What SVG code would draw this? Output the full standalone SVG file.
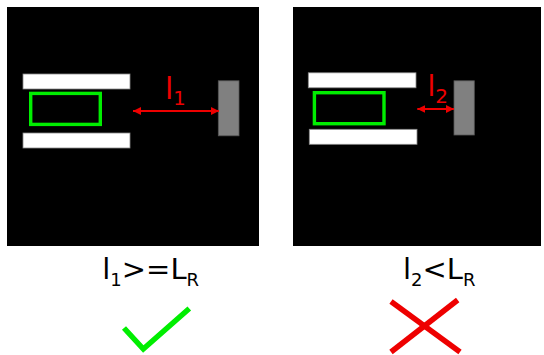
<svg xmlns="http://www.w3.org/2000/svg" width="544" height="355" viewBox="0 0 544 355">
<style>
.panel{fill:#000}
.bar{fill:#fff;stroke:#888;stroke-width:0.8}
.car{fill:none;stroke:#00ee00;stroke-width:3.4}
.wall{fill:#808080;stroke:#555;stroke-width:0.8}
.dim{stroke:#ee0000;stroke-width:2;fill:none}
.red{fill:#ee0000;font-family:"DejaVu Sans",sans-serif}
.lbl{fill:#000;font-family:"DejaVu Sans",sans-serif}
</style>
<defs>
<marker id="ah" viewBox="0 0 10 10" refX="10" refY="5" markerWidth="4" markerHeight="4" orient="auto-start-reverse" markerUnits="strokeWidth">
<path d="M0,0 L10,5 L0,10 Z" fill="#ee0000"/>
</marker>
</defs>
<rect width="544" height="355" fill="#fff"/>
<g id="panel1">
<rect class="panel" x="7" y="7" width="252" height="239"/>
<rect class="bar" x="23" y="74" width="107" height="15"/>
<rect class="car" x="30.7" y="93.4" width="69.6" height="31"/>
<rect class="bar" x="23" y="133" width="107" height="15"/>
<rect class="wall" x="218.3" y="80.8" width="20.7" height="55"/>
<text class="red" x="165" y="99" font-size="30">l<tspan font-size="19.5" dy="6">1</tspan></text>
</g>
<g id="panel2">
<rect class="panel" x="293" y="7" width="248" height="239"/>
<rect class="bar" x="308.3" y="72.8" width="107.7" height="15"/>
<rect class="car" x="314.4" y="92.7" width="69.6" height="31"/>
<rect class="bar" x="309.3" y="129.3" width="107.7" height="15"/>
<rect class="wall" x="454" y="80.8" width="20.3" height="54.2"/>
<text class="red" x="427.5" y="96" font-size="28">l<tspan font-size="20" dy="6.7">2</tspan></text>
</g>
<g id="connectors">
<line class="dim" x1="133" y1="111" x2="219" y2="111" marker-start="url(#ah)" marker-end="url(#ah)"/>
<line class="dim" x1="417.3" y1="109" x2="454" y2="109" marker-start="url(#ah)" marker-end="url(#ah)"/>
</g>
<g id="label1">
<text class="lbl" x="102.3" y="279.3" font-size="29">l<tspan font-size="18" dy="6.4">1</tspan><tspan dy="-6.4">&gt;=L</tspan><tspan font-size="18" dy="6.4">R</tspan></text>
</g>
<g id="label2">
<text class="lbl" x="403" y="279.3" font-size="29">l<tspan font-size="18" dy="6.4">2</tspan><tspan dy="-6.4">&lt;L</tspan><tspan font-size="18" dy="6.4">R</tspan></text>
</g>
<g id="check">
<polyline points="124,328 143.3,349 189.3,308.5" fill="none" stroke="#00ee00" stroke-width="5.5"/>
</g>
<g id="cross">
<line x1="391" y1="301.5" x2="460" y2="352" stroke="#ee0000" stroke-width="5.5"/>
<line x1="457.7" y1="300" x2="391" y2="352" stroke="#ee0000" stroke-width="5.5"/>
</g>
</svg>
